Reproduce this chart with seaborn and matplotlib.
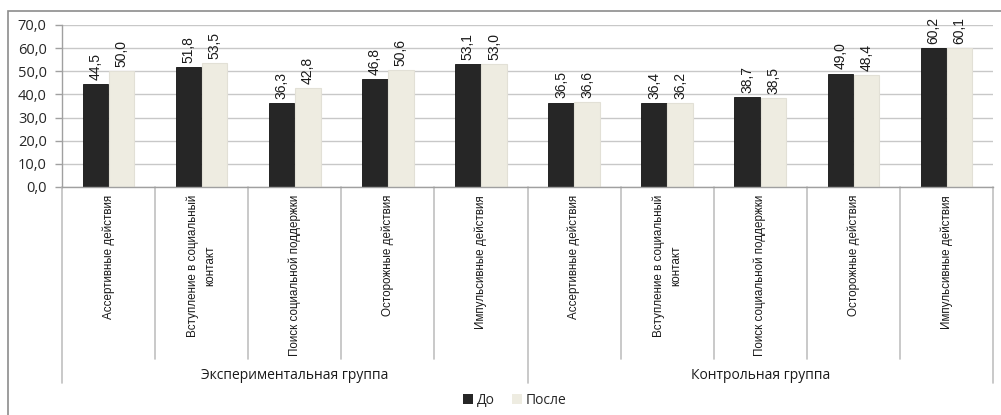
import matplotlib
matplotlib.use("Agg")
import matplotlib.pyplot as plt
import matplotlib.transforms as mtransforms
from matplotlib.patches import Rectangle
from matplotlib.lines import Line2D
import seaborn as sns
import pandas as pd

# Data
groups = ["Экспериментальная группа", "Контрольная группа"]
strategies = [
    "Ассертивные действия",
    "Вступление в социальный\nконтакт",
    "Поиск социальной поддержки",
    "Осторожные действия",
    "Импульсивные действия",
]
series = ["До", "После"]
before_exp = [44.5, 51.8, 36.3, 46.8, 53.1]
after_exp = [50.0, 53.5, 42.8, 50.6, 53.0]
before_ctrl = [36.5, 36.4, 38.7, 49.0, 60.2]
after_ctrl = [36.6, 36.2, 38.5, 48.4, 60.1]
y_ticks = [0, 10, 20, 30, 40, 50, 60, 70]

# Long-format table for seaborn
rows = []
values = {("Экспериментальная группа", "До"): before_exp,
          ("Экспериментальная группа", "После"): after_exp,
          ("Контрольная группа", "До"): before_ctrl,
          ("Контрольная группа", "После"): after_ctrl}
positions = []
for g in groups:
    for s in strategies:
        positions.append(f"{g}|{s}")
for g in groups:
    for ser in series:
        for s, v in zip(strategies, values[(g, ser)]):
            rows.append({"pos": f"{g}|{s}", "series": ser, "value": v})
df = pd.DataFrame(rows)

sns.set_theme(style="white")
plt.rcParams["font.family"] = ["Liberation Sans", "DejaVu Sans"]

W, H = 1001, 415
fig = plt.figure(figsize=(W / 100, H / 100), dpi=100)
ax = fig.add_axes([62 / W, 1 - 187 / H, (993 - 62) / W, (187 - 25) / H])

dark = "#262626"
light = "#EEECE1"
sns.barplot(data=df, x="pos", y="value", hue="series", order=positions,
            hue_order=series, palette=[dark, light], width=0.56, gap=0.02,
            ax=ax, legend=False, saturation=1)

for i, cont in enumerate(ax.containers):
    for bar in cont:
        if i == 0:
            bar.set_edgecolor("#111111")
            bar.set_linewidth(0.6)
        else:
            bar.set_edgecolor("#E2E0D6")
            bar.set_linewidth(0.8)
    ax.bar_label(cont, labels=[f"{b.get_height():.1f}".replace(".", ",") for b in cont],
                 rotation=90, padding=3, fontsize=10, color="#1a1a1a")

ax.set_ylim(0, 70)
ax.set_xlim(-0.5, len(positions) - 0.5)
ax.set_yticks(y_ticks)
ax.set_yticklabels([f"{t:.1f}".replace(".", ",") for t in y_ticks],
                   fontsize=10.5, family=["Open Sans"], color="#262626")
ax.yaxis.grid(True, color="#C8C8C8", linewidth=1)
ax.set_axisbelow(True)
ax.tick_params(axis="y", length=5, color="#A0A0A0", width=1, pad=6, left=True)
ax.set_xticks([])
ax.set_xlabel("")
ax.set_ylabel("")
for side in ["top", "right"]:
    ax.spines[side].set_visible(False)
for side in ["left", "bottom"]:
    ax.spines[side].set_color("#A0A0A0")
    ax.spines[side].set_linewidth(1)

# Category labels and multi-level axis separators
trans = mtransforms.blended_transform_factory(ax.transData, ax.transAxes)
axh = (187 - 25)
cat_bottom = -(359 - 187) / axh
grp_bottom = -(383 - 187) / axh
label_top = -(195 - 187) / axh
grp_label_y = -(375 - 187) / axh

for i, p in enumerate(positions):
    name = p.split("|")[1]
    ax.text(i, label_top, name, transform=trans, rotation=90, ha="center",
            va="top", fontsize=8.4, color="#1a1a1a", linespacing=1.6,
            multialignment="center")

n = len(strategies)
for b in range(len(positions) + 1):
    xb = b - 0.5
    y0 = grp_bottom if b % n == 0 else cat_bottom
    ax.add_line(Line2D([xb, xb], [0, y0], transform=trans, color="#C0C0C0",
                       linewidth=1.2, clip_on=False))

for gi, g in enumerate(groups):
    ax.text(gi * n + (n - 1) / 2, grp_label_y, g, transform=trans, ha="center",
            va="center", fontsize=10, family=["Open Sans"], color="#1a1a1a")

# Legend
handles = [Rectangle((0, 0), 1, 1, facecolor=dark, edgecolor="none"),
           Rectangle((0, 0), 1, 1, facecolor=light, edgecolor="none")]
fig.legend(handles, series, loc="center", bbox_to_anchor=(515 / W, 1 - 400 / H),
           ncol=2, frameon=False, handlelength=0.7, handleheight=0.7,
           handletextpad=0.3, columnspacing=1.2,
           prop={"family": "Open Sans", "size": 10})

# Chart border
fig.add_artist(Rectangle((8 / W, -0.1), 1.2, 1.1 - 11 / H, transform=fig.transFigure,
                         facecolor="none", edgecolor="#8C8C8C", linewidth=1.2))

fig.savefig("out.png", dpi=100)
